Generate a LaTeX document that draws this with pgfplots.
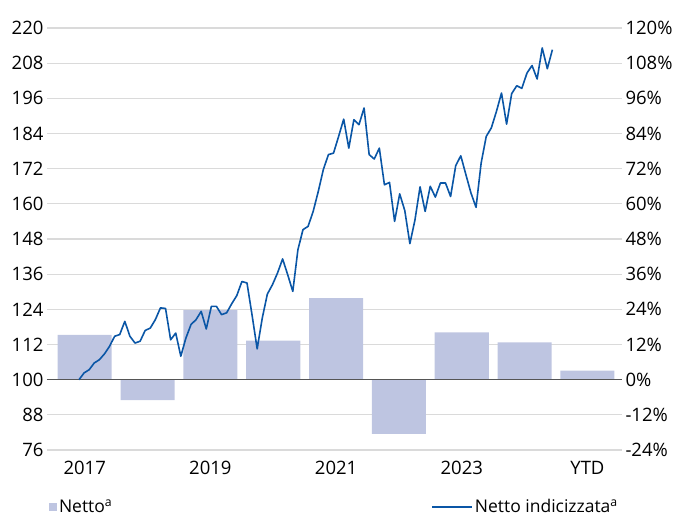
\documentclass[border=0pt]{standalone}
\usepackage{pgfplots}
\pgfplotsset{compat=1.18}
\usepackage{pgfplotstable}
\usepackage{fontspec}
\setmainfont{Open Sans}
\definecolor{barc}{RGB}{190,197,225}
\definecolor{linec}{RGB}{10,86,166}
\definecolor{gridc}{RGB}{218,218,218}
\definecolor{basec}{RGB}{85,85,85}

\pgfplotstableread{
cat pct
0 15.3
1 -7.0
2 23.7
3 13.3
4 27.8
5 -18.5
6 16.1
7 12.7
8 3.1
}\bars

\pgfplotstableread{
v
100
102.3
103.4
105.7
106.8
108.8
111.4
114.8
115.4
119.9
114.8
112.5
113.1
116.8
117.6
120.5
124.5
124.3
113.6
115.9
108
114.2
118.8
120.5
123.3
117.3
125
125
122.2
122.8
125.9
128.7
133.5
133
122
110.5
121
129.2
132.4
136.4
141.2
135.8
130.1
144.3
151.2
152.3
157.4
164.2
171.7
176.8
177.3
183
188.9
179
188.7
187
192.7
176.8
175.3
179
166.5
167.3
154
163.4
157.7
146.4
154.5
165.8
157.4
166
162.3
167.1
167.1
162.5
173
176.4
170
163.7
158.8
173.9
183
185.9
191.5
197.8
187.2
197.6
200.3
199.4
204.6
207.2
202.6
213.2
206.1
212.6
}\idx

\begin{document}
\begin{tikzpicture}
\useasboundingbox (0pt,0pt) rectangle (683pt,516pt);
\pgfplotsset{
  common/.style={
    at={(47pt,66pt)}, anchor=south west,
    scale only axis, width=575pt, height=422pt,
    xmin=-0.6, xmax=8.55,
    axis line style={draw=none},
    tick style={draw=none},
    major tick length=0pt,
    /pgf/number format/assume math mode=true,
    tick label style={font=\fontsize{18.5}{22}\selectfont},
    clip=false,
  }
}
\begin{axis}[common,
  ymin=-24, ymax=120,
  ytick={-24,-12,...,120},
  yticklabel={\pgfmathprintnumber{\tick}\%},
  yticklabel pos=right,
  yticklabel style={anchor=west, xshift=0pt},
  xtick={0,2,4,6,8},
  xticklabels={2017,2019,2021,2023,YTD},
  xticklabel style={yshift=-8pt},
  ymajorgrids,
  grid style={line width=1.2pt, gridc},
  legend style={draw=none, fill=none, inner sep=0pt, outer sep=0pt,
    at={(0.0035,-0.135)}, anchor=west,
    font=\fontsize{17.5}{21}\selectfont},
  legend image code/.code={\fill[barc] (0pt,-4pt) rectangle (8pt,4pt);},
]
\addplot[ybar, bar width=0.86, bar shift=0pt, fill=barc, draw=none] table[x=cat, y=pct] {\bars};
\addlegendentry{Netto\textsuperscript{a}}
\end{axis}
\begin{axis}[common,
  ymin=76, ymax=220,
  ytick={76,88,...,220},
  yticklabel style={anchor=east},
  xtick=\empty,
  extra y ticks={100},
  extra y tick labels={},
  extra y tick style={ymajorgrids, grid style={line width=1.4pt, basec}},
  legend style={draw=none, fill=none, inner sep=0pt, outer sep=0pt,
    at={(0.668,-0.135)}, anchor=west,
    font=\fontsize{17.5}{21}\selectfont},
  legend image code/.code={\draw[linec, line width=1.8pt] (0pt,0pt) -- (40pt,0pt);},
]
\addplot[linec, line width=1.6pt, line join=round] table[x expr=\coordindex*0.081-0.0906, y=v] {\idx};
\addlegendentry{Netto indicizzata\textsuperscript{a}}
\end{axis}
\end{tikzpicture}
\end{document}
